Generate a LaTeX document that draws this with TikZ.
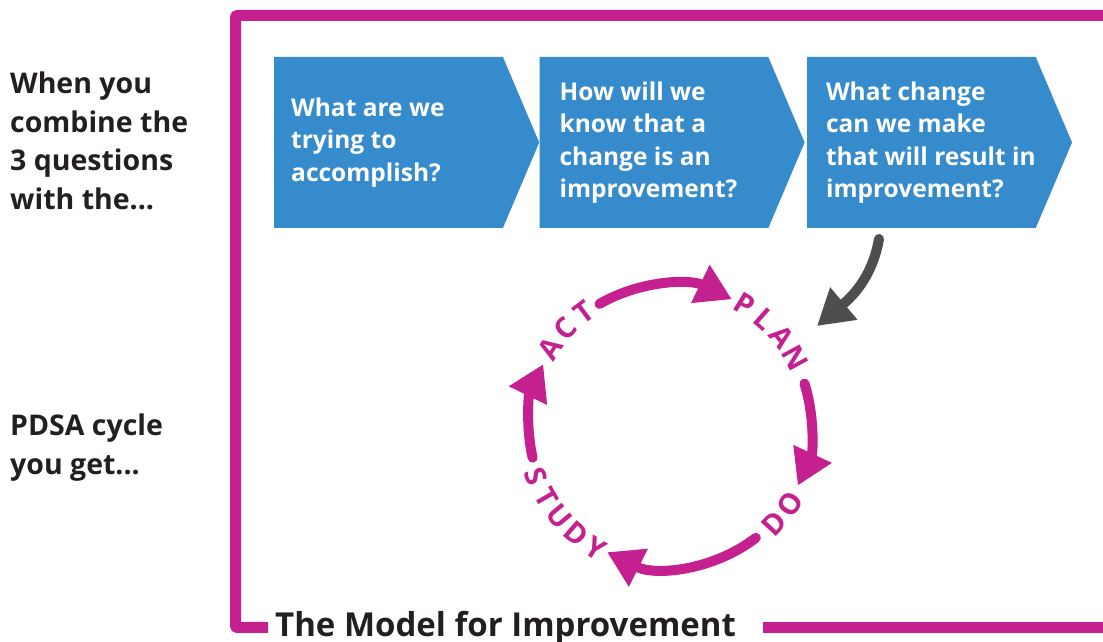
\documentclass[tikz,border=0pt]{standalone}
\usepackage{fontspec}
\setmainfont{Open Sans}
\usetikzlibrary{positioning}
\usetikzlibrary{arrows.meta}
\usetikzlibrary{shapes.symbols}
\definecolor{pdsamag}{RGB}{196,32,143}
\definecolor{qblue}{RGB}{53,139,203}
\definecolor{arrgray}{RGB}{77,78,80}
\definecolor{inkdark}{RGB}{35,31,32}
\tikzset{
    frame/.style = {line width=11pt,draw=pdsamag,rounded corners=2pt},
    qbox/.style = {signal, signal to=east, signal pointer angle=134, fill=qblue, minimum width=265pt, minimum height=171pt, inner sep=0pt},
    qtext/.style = {anchor=west, inner sep=0pt, align=left, text=white, font=\bfseries\fontsize{24.5}{32.5}\selectfont},
    sidetext/.style = {anchor=north west, inner sep=0pt, align=left, text=inkdark, font=\bfseries\fontsize{28.5}{38.5}\selectfont},
    titletext/.style = {anchor=base west, inner sep=0pt, text=inkdark, font=\bfseries\fontsize{33}{33}\selectfont},
    cycarc/.style = {line width=10pt, draw=pdsamag, line cap=round, -{Triangle[length=35pt,width=40pt]}},
    cyclet/.style = {text=pdsamag, inner sep=0pt, font=\bfseries\fontsize{29}{29}\selectfont},
    edgeg/.style = {line width=10pt, draw=arrgray, line cap=round, -{Triangle[length=35pt,width=40pt]}}
}

\begin{document}
\begin{tikzpicture}[x=1pt,y=1pt]
  \clip (0,0) rectangle (1103,642);

  % left side text
  \node[sidetext] (intro) at (10,570.3) {When you\\combine the\\3 questions\\with the...};
  \node[sidetext] (outro) at (10,228.3) {PDSA cycle\\you get...};

  % the three questions
  \node[qbox, anchor=west] (q1) at (274,499.5) {};
  \node[qbox, right=0pt of q1] (q2) {};
  \node[qbox, right=2pt of q2] (q3) {};
  \node[qtext] (t1) at ([xshift=17pt]q1.west) {What are we\\trying to\\accomplish?};
  \node[qtext] (t2) at ([xshift=20pt]q2.west) {How will we\\know that a\\change is an\\improvement?};
  \node[qtext] (t3) at ([xshift=19pt]q3.west) {What change\\can we make\\that will result in\\improvement?};

  % frame and title
  \node[titletext] (title) at (275,5) {The Model for Improvement};
  \coordinate (ftr) at (1103,626.5);
  \coordinate (fbl) at (235.5,14.5);
  \coordinate (fbr) at (1103,14.5);
  \draw[frame, shorten >=7pt] (ftr) -| (fbl) -- (fbl -| title.west);
  \draw[frame, shorten <=27pt] (fbl -| title.east) -- (fbr);

  % PDSA cycle
  \coordinate (c) at (670,216);
  \draw[cycarc] ([shift={(120:141)}]c) arc[start angle=120, end angle=64, radius=141];
  \draw[cycarc] ([shift={(17.5:141)}]c) arc[start angle=17.5, end angle=-25, radius=141];
  \draw[cycarc] ([shift={(-52.5:141)}]c) arc[start angle=-52.5, end angle=-116.5, radius=141];
  \draw[cycarc] ([shift={(193:141)}]c) arc[start angle=193, end angle=154, radius=141];

  \foreach \ch/\a [count=\i] in {P/58.5,L/48.5,A/38.5,N/28.5, A/147,C/137,T/127}
    \node[cyclet, rotate=\a-90] (top-\i) at ([shift={(\a:143)}]c) {\ch};
  \foreach \ch/\a [count=\i] in {D/-43,O/-33, S/-159.5,T/-150,U/-140.5,D/-131,Y/-121.5}
    \node[cyclet, rotate=\a+90] (bot-\i) at ([shift={(\a:143)}]c) {\ch};

  % into the cycle
  \coordinate (g1) at (879,403);
  \coordinate (g2) at (817,316);
  \draw[edgeg] (g1) to[out=-100, in=40] (g2);
\end{tikzpicture}
\end{document}
